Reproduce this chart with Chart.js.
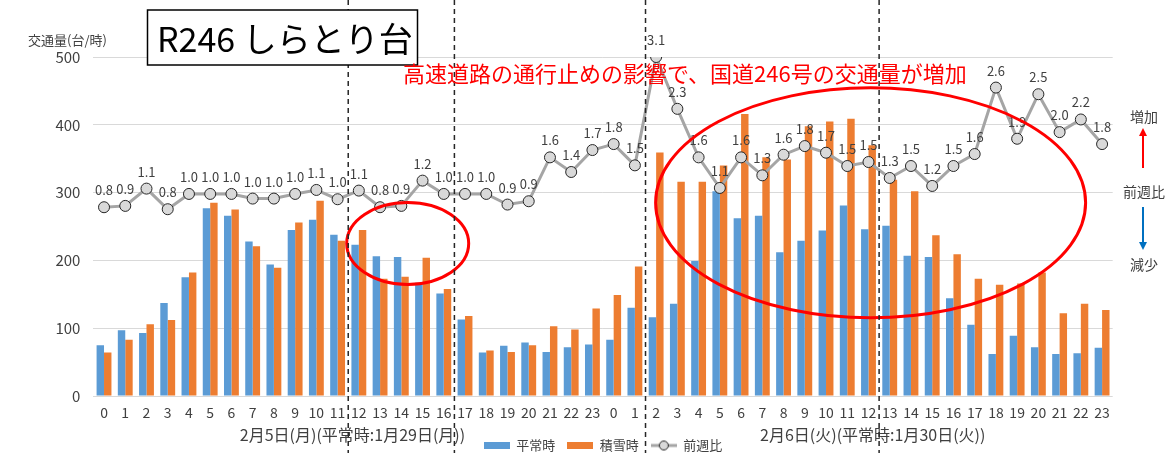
<!DOCTYPE html>
<html><head><meta charset="utf-8">
<script src="https://cdn.jsdelivr.net/npm/chart.js@4.4.0/dist/chart.umd.min.js"></script>
<style>html,body{margin:0;padding:0;background:#fff}#wrap{width:1169px;height:453px;position:relative}</style>
</head><body><div id="wrap"><canvas id="c"></canvas></div>
<script>
const hours = ['0','1','2','3','4','5','6','7','8','9','10','11','12','13','14','15','16','17','18','19','20','21','22','23',
               '0','1','2','3','4','5','6','7','8','9','10','11','12','13','14','15','16','17','18','19','20','21','22','23'];
const normalTraffic = [75,97,93,137,175,277,266,228,194,245,260,238,223,206,205,167,151,113,64,74,79,65,72,76,
                       83,130,116,136,199,302,262,266,212,229,244,281,246,251,207,205,144,105,62,89,72,62,63,71];
const snowTraffic = [64,83,106,112,182,285,275,221,189,256,288,229,245,173,176,204,158,118,67,65,75,103,98,129,
                     149,191,359,316,316,340,416,352,349,398,405,409,370,319,302,237,209,173,164,166,182,122,136,127];
const weekRatio = [0.84,0.86,1.12,0.81,1.04,1.04,1.04,0.97,0.97,1.04,1.10,0.96,1.09,0.84,0.86,1.24,1.04,1.04,1.04,0.88,0.93,1.59,1.37,1.70,
                   1.79,1.47,3.10,2.32,1.59,1.13,1.59,1.32,1.63,1.76,1.66,1.46,1.52,1.28,1.46,1.16,1.46,1.64,2.64,1.87,2.54,1.97,2.16,1.79];
const yTicks = [0,100,200,300,400,500];
const seriesNames = ['平常時','積雪時','前週比'];
const dayLabels = ['2月5日(月)(平常時:1月29日(月))','2月6日(火)(平常時:1月30日(火))'];
const chartTitle = 'R246 しらとり台';
const yTitle = '交通量(台/時)';
const noteText = '高速道路の通行止めの影響で、国道246号の交通量が増加';
const sideLabels = ['増加','前週比','減少'];

const FF = "'Noto Sans CJK JP','Noto Sans',sans-serif";
const BLUE = '#5B9BD5', ORANGE = '#ED7D31', GRAY = '#A5A5A5', TXT = '#404040';

function rectImg(color){const c=document.createElement('canvas');c.width=26;c.height=7;const g=c.getContext('2d');g.fillStyle=color;g.fillRect(0,0,26,7);return c;}
function lineImg(){const c=document.createElement('canvas');c.width=26;c.height=12;const g=c.getContext('2d');
  g.strokeStyle=GRAY;g.lineWidth=3;g.beginPath();g.moveTo(0,6);g.lineTo(26,6);g.stroke();
  g.beginPath();g.arc(13,6,4.5,0,Math.PI*2);g.fillStyle='#D9D9D9';g.fill();g.lineWidth=1;g.strokeStyle='#262626';g.stroke();return c;}
const legendImgs=[rectImg(BLUE),rectImg(ORANGE),lineImg()];

const overlay = {
  id:'overlay',
  afterDatasetsDraw(chart){
    const ctx=chart.ctx; const meta=chart.getDatasetMeta(2);
    ctx.save(); ctx.font='13px '+FF; ctx.fillStyle=TXT; ctx.textAlign='center'; ctx.textBaseline='middle';
    meta.data.forEach((pt,i)=>{ctx.fillText(weekRatio[i].toFixed(1), pt.x, pt.y-17);});
    ctx.restore();
  },
  afterDraw(chart){
    const ctx=chart.ctx, xs=chart.scales.x, ys=chart.scales.y;
    const step = xs.width/hours.length;
    const px = v => xs.left + (v+0.5)*step;
    ctx.save();
    // group labels
    ctx.font='16px '+FF; ctx.fillStyle=TXT; ctx.textAlign='center'; ctx.textBaseline='middle';
    ctx.fillText(dayLabels[0], px(11.7), 435);
    ctx.fillText(dayLabels[1], px(36.2), 435);
    // ellipses
    ctx.strokeStyle='#FF0000'; ctx.lineWidth=3;
    ctx.beginPath(); ctx.ellipse(px(14.3), ys.getPixelForValue(225), 61, 41, 0, 0, Math.PI*2); ctx.stroke();
    ctx.beginPath(); ctx.ellipse(px(36.1), ys.getPixelForValue(285), 215, 115, 0, 0, Math.PI*2); ctx.stroke();
    // dashed separators
    ctx.strokeStyle='#262626'; ctx.lineWidth=1.5; ctx.setLineDash([5,4]);
    [12,17,26,37].forEach(i=>{const x=xs.left+i*step; ctx.beginPath(); ctx.moveTo(x,0); ctx.lineTo(x,453); ctx.stroke();});
    ctx.setLineDash([]);
    // y title
    ctx.font='13px '+FF; ctx.fillStyle=TXT; ctx.textAlign='left';
    ctx.fillText(yTitle, 28, 40);
    // title box
    ctx.fillStyle='#fff'; ctx.fillRect(147.5,10,270,55);
    ctx.strokeStyle='#000'; ctx.lineWidth=1.5; ctx.strokeRect(147.5,10,270,55);
    ctx.fillStyle='#000'; ctx.font='34px '+FF; ctx.textAlign='left';
    ctx.fillText(chartTitle, 157, 39);
    // note
    ctx.fillStyle='#FF0000'; ctx.font='22px '+FF; ctx.textAlign='left';
    ctx.fillText(noteText, 403, 74);
    // side annotations
    ctx.fillStyle=TXT; ctx.font='14px '+FF; ctx.textAlign='center';
    ctx.fillText(sideLabels[0], 1144, 117);
    ctx.fillText(sideLabels[1], 1144, 192);
    ctx.fillText(sideLabels[2], 1144, 265);
    // arrows
    function arrow(x,y1,y2,col){ctx.strokeStyle=col;ctx.fillStyle=col;ctx.lineWidth=2;
      const d=Math.sign(y2-y1); ctx.beginPath(); ctx.moveTo(x,y1); ctx.lineTo(x,y2-d*7); ctx.stroke();
      ctx.beginPath(); ctx.moveTo(x,y2); ctx.lineTo(x-4,y2-d*8); ctx.lineTo(x+4,y2-d*8); ctx.closePath(); ctx.fill();}
    arrow(1143,168,128,'#FF0000');
    arrow(1143,207,250,'#0070C0');
    ctx.restore();
  }
};

new Chart(document.getElementById('c'), {
  data:{
    labels: hours,
    datasets:[
      {type:'bar', label:seriesNames[0], data:normalTraffic, backgroundColor:BLUE, borderWidth:0, yAxisID:'y', order:1, categoryPercentage:0.7, barPercentage:1.0},
      {type:'bar', label:seriesNames[1], data:snowTraffic, backgroundColor:ORANGE, borderWidth:0, yAxisID:'y', order:1, categoryPercentage:0.7, barPercentage:1.0},
      {type:'line', label:seriesNames[2], data:weekRatio, yAxisID:'y2', order:0, borderColor:GRAY, borderWidth:3, tension:0,
       pointRadius:5.5, pointBackgroundColor:'#D9D9D9', pointBorderColor:'#262626', pointBorderWidth:1}
    ]
  },
  options:{
    responsive:true, maintainAspectRatio:false, animation:false,
    layout:{padding:{top:57, right:56.3, bottom:0, left:0}},
    scales:{
      x:{grid:{display:false}, border:{display:false},
         ticks:{autoSkip:false, maxRotation:0, minRotation:0, padding:0, color:TXT, font:{family:FF, size:14}},
         afterFit(s){s.height=31;}},
      y:{min:0, max:500, position:'left', afterBuildTicks(s){s.ticks=yTicks.map(v=>({value:v}));},
         grid:{color:'#D9D9D9', lineWidth:1, drawTicks:false}, border:{display:false},
         ticks:{padding:13, color:TXT, font:{family:FF, size:15}},
         afterFit(s){s.width=93.4;}},
      y2:{min:-2, max:3.1, position:'right', display:false, grid:{display:false}}
    },
    plugins:{
      tooltip:{enabled:false},
      legend:{position:'bottom', fullSize:false, maxHeight:26,
        labels:{usePointStyle:true, pointStyleWidth:26, padding:12, color:TXT, font:{family:FF, size:13},
          generateLabels(){return seriesNames.map((n,i)=>({text:n, pointStyle:legendImgs[i], fillStyle:'transparent', strokeStyle:'transparent', lineWidth:0, hidden:false, datasetIndex:i, fontColor:TXT}));}}
      }
    }
  },
  plugins:[overlay]
});
</script></body></html>
